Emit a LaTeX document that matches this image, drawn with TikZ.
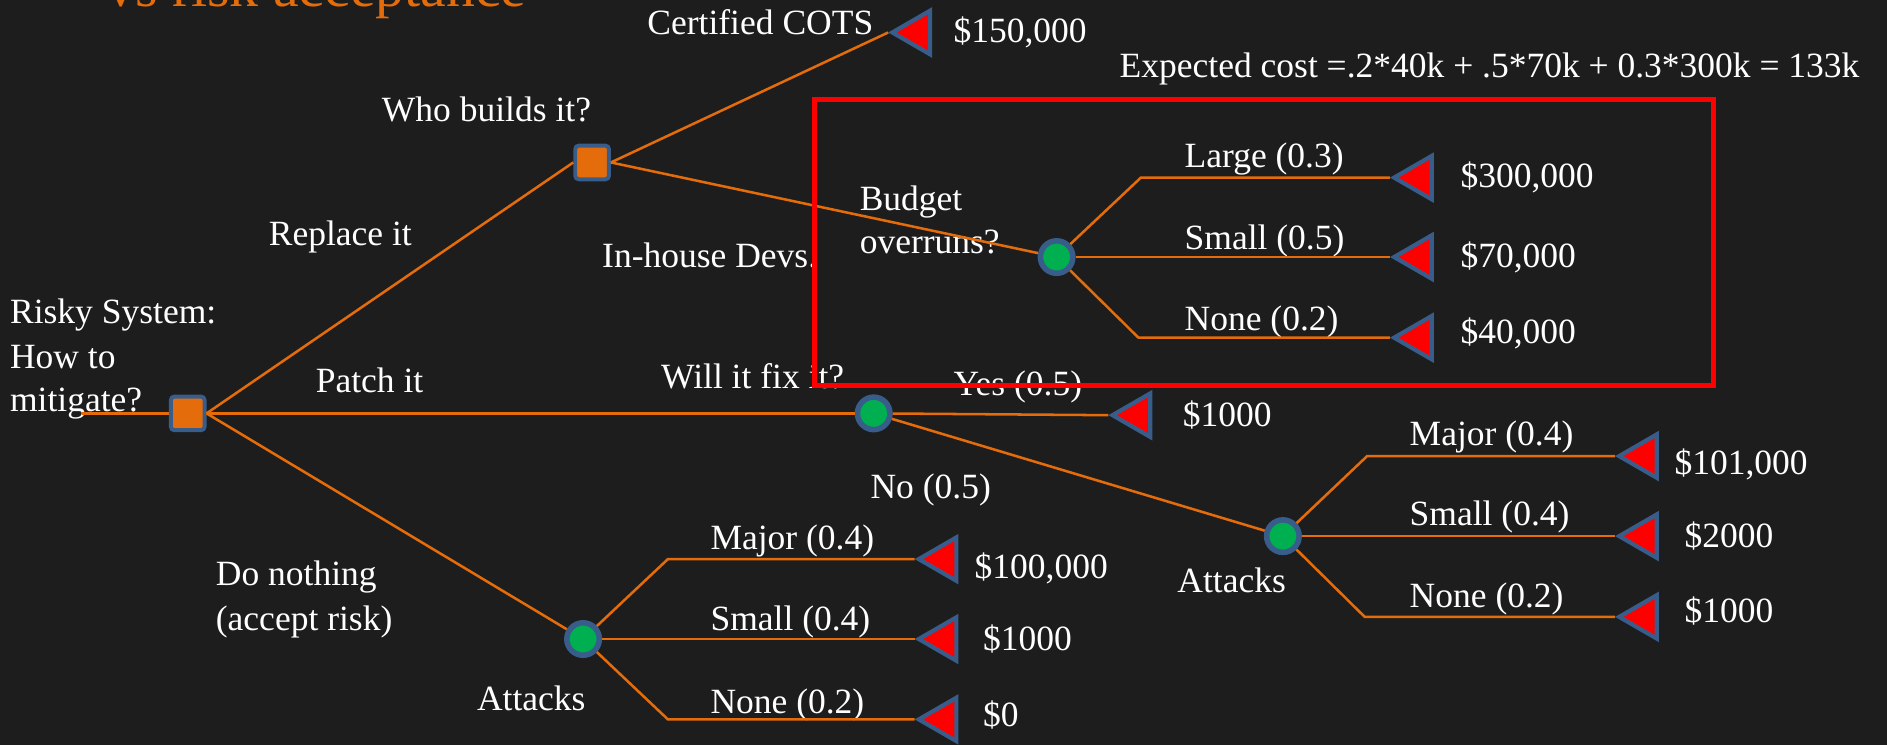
\documentclass[tikz,border=0pt]{standalone}
\usepackage{fontspec}
\setmainfont{Liberation Serif}
\usepackage{tikz}
\usetikzlibrary{positioning,shapes.geometric}
\pgfdeclarelayer{background layer}
\pgfsetlayers{background layer,main}
\definecolor{slide}{RGB}{29,29,29}
\definecolor{branchorange}{RGB}{228,108,10}
\definecolor{nodeblue}{RGB}{56,93,138}
\definecolor{chancegreen}{RGB}{0,176,80}

\begin{document}
\begin{tikzpicture}[x=0.5pt,y=-0.5pt]
\tikzstyle{decision}=[draw=nodeblue,fill=branchorange,line width=1.65pt,rectangle,rounded corners=1.5pt,minimum size=14pt,inner sep=0pt]
\tikzstyle{chance}=[draw=nodeblue,fill=chancegreen,line width=2.3pt,circle,minimum size=13.5pt,inner sep=0pt]
\tikzstyle{payoff}=[draw=nodeblue,fill=red,line width=1.75pt,regular polygon,regular polygon sides=3,shape border rotate=90,minimum size=20.8pt,inner sep=0pt,anchor=west]
\tikzstyle{branch}=[draw=branchorange,line width=1.05pt]
\tikzstyle{txt}=[text=white,font=\fontsize{14.75}{18}\selectfont,inner sep=0pt,anchor=base west]
\useasboundingbox (0,0) rectangle (1568,619);
\clip (0,0) rectangle (1568,619);
% title, cut off at the top
\node [txt,text=branchorange,font=\fontsize{24}{28}\selectfont] at (88,5.5) (title) {vs risk acceptance};
% questions and branch labels
\node [txt] at (8,269) (sys1) {Risky System:};
\node [txt] at (8,306.5) (sys2) {How to};
\node [txt] at (8,342) (sys3) {mitigate?};
\node [txt] at (317,101) (whoq) {Who builds it?};
\node [txt,anchor=base east] at (726,29) (lcots) {Certified COTS};
\node [txt] at (930,64) (expect) {Expected cost =.2*40k + .5*70k + 0.3*300k = 133k};
\node [txt] at (223,204) (lrepl) {Replace it};
\node [txt] at (500,222) (lhouse) {In-house Devs.};
\node [txt] at (714,175) (bq1) {Budget};
\node [txt] at (714,211) (bq2) {overruns?};
\node [txt] at (984,139) (llarge) {Large (0.3)};
\node [txt] at (984,207) (lsmall5) {Small (0.5)};
\node [txt] at (984,274.5) (lnone2) {None (0.2)};
\node [txt] at (262,326) (lpatch) {Patch it};
\node [txt] at (549,323) (fixq) {Will it fix it?};
\node [txt] at (792,328.5) (lyes) {Yes (0.5)};
\node [txt] at (723,414) (lno) {No (0.5)};
\node [txt] at (978,492) (att2q) {Attacks};
\node [txt] at (1171,370) (lmajor2) {Major (0.4)};
\node [txt] at (1171,436.5) (lsmall2) {Small (0.4)};
\node [txt] at (1171,504.5) (lnone4) {None (0.2)};
\node [txt] at (179,486.5) (ldo1) {Do nothing};
\node [txt] at (179,524) (ldo2) {(accept risk)};
\node [txt] at (396,590) (att1q) {Attacks};
\node [txt] at (590,457) (lmajor1) {Major (0.4)};
\node [txt] at (590,524) (lsmall1) {Small (0.4)};
\node [txt] at (590,592.5) (lnone1) {None (0.2)};
% decision and chance nodes
\coordinate (start) at (68,343.5);
\node [decision] at (156,343.5) (root) {};
\node [decision] at (492,135) (who) {};
\node [chance] at (878,213.6) (budget) {};
\node [chance] at (726,343.5) (fix) {};
\node [chance] at (1066,445.5) (att2) {};
\node [chance] at (484.5,531) (att1) {};
% outcomes
\node [payoff] at (738,27) (cots) {};
\node [payoff] at (1155,147.6) (large) {};
\node [payoff] at (1155,213.6) (small5) {};
\node [payoff] at (1155,280.6) (none2) {};
\node [payoff] at (921,345) (yes) {};
\node [payoff] at (1342,379) (major2) {};
\node [payoff] at (1342,445.5) (small2) {};
\node [payoff] at (1342,512.6) (none4) {};
\node [payoff] at (760,464.6) (major1) {};
\node [payoff] at (760,531) (small1) {};
\node [payoff] at (760,597.8) (none1) {};
\node [txt,right=8.75pt of cots] (m150) {\$150,000};
\node [txt,right=10.9pt of large] (m300) {\$300,000};
\node [txt,right=10.9pt of small5] (m70) {\$70,000};
\node [txt,right=10.9pt of none2,yshift=1.8pt] (m40) {\$40,000};
\node [txt,right=12.5pt of yes] (m1000a) {\$1000};
\node [txt,right=6.3pt of major2,yshift=-3.5pt] (m101) {\$101,000};
\node [txt,right=10.5pt of small2] (m2000) {\$2000};
\node [txt,right=10.5pt of none4,yshift=2.3pt] (m1000b) {\$1000};
\node [txt,right=6.5pt of major1,yshift=-3.7pt] (m100) {\$100,000};
\node [txt,right=10pt of small1] (m1000c) {\$1000};
\node [txt,right=10pt of none1,yshift=1.9pt] (m0) {\$0};
% knees of the fans
\coordinate (bk1) at (948,147.6);
\coordinate (bk2) at (946,280.6);
\coordinate (ak1) at (555,464.6);
\coordinate (ak2) at (555,597.8);
\coordinate (ak3) at (1136,379);
\coordinate (ak4) at (1134,512.6);
% branches
\draw [branch] (start) -- (root.west);
\draw [branch] (root.east) -- (who.west);
\draw [branch] (root.east) -- (fix);
\draw [branch] (root.east) -- (att1);
\draw [branch] (who.east) -- (cots.west);
\draw [branch] (who.east) -- (budget);
\draw [branch] (budget) -- (bk1) -- (large.west);
\draw [branch] (budget) -- (small5.west);
\draw [branch] (budget) -- (bk2) -- (none2.west);
\draw [branch] (fix) -- (yes.west);
\draw [branch] (fix) -- (att2);
\draw [branch] (att2) -- (ak3) -- (major2.west);
\draw [branch] (att2) -- (small2.west);
\draw [branch] (att2) -- (ak4) -- (none4.west);
\draw [branch] (att1) -- (ak1) -- (major1.west);
\draw [branch] (att1) -- (small1.west);
\draw [branch] (att1) -- (ak2) -- (none1.west);
% highlight box
\draw [red,line width=2pt] (677,83) rectangle (1424,320.5);
\begin{pgfonlayer}{background layer}
\fill [slide] (0,0) rectangle (1568,619);
\end{pgfonlayer}
\end{tikzpicture}
\end{document}
